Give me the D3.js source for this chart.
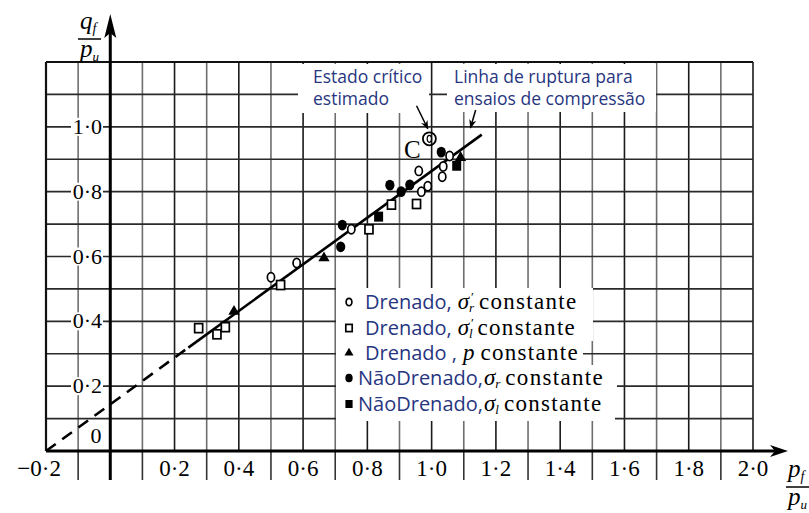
<!DOCTYPE html>
<html>
<head>
<meta charset="utf-8">
<script src="https://cdn.jsdelivr.net/npm/d3@7"></script>
<style>
  body { margin: 0; background: #fff; }
  .serif { font-family: "Liberation Serif", "DejaVu Serif", serif; }
  .sans { font-family: "Open Sans", "Liberation Sans", sans-serif; }
</style>
</head>
<body>
<div id="root"></div>
<script>
// values (x = pf/pu, y = qf/pu)
const drenadoSigR = [[0.50, 0.536], [0.58, 0.58], [0.75, 0.684], [0.968, 0.80], [0.988, 0.817],
  [0.96, 0.864], [1.036, 0.878], [1.033, 0.846], [1.056, 0.91]];
const drenadoSigL = [[0.275, 0.379], [0.332, 0.36], [0.358, 0.382], [0.53, 0.512],
  [0.805, 0.684], [0.875, 0.76], [0.953, 0.762]];
const drenadoP = [[0.385, 0.43], [0.665, 0.595], [1.09, 0.905]];
const naoDrenadoSigR = [[0.717, 0.63], [0.722, 0.697], [0.87, 0.82], [0.905, 0.80],
  [0.932, 0.821], [1.03, 0.922]];
const naoDrenadoSigL = [[0.835, 0.723], [1.078, 0.88]];
const criticalState = [0.993, 0.963];
const failureLine = [[-0.2, 0], [0.243, 0.319], [1.156, 0.976]];

const xTicks = [-0.2, 0.2, 0.4, 0.6, 0.8, 1.0, 1.2, 1.4, 1.6, 1.8, 2.0];
const yTicks = [0.2, 0.4, 0.6, 0.8, 1.0];
const legendNames = ["Drenado,", "Drenado,", "Drenado ,", "NãoDrenado,", "NãoDrenado,"];
const legendVars = ["σ", "σ", "p", "σ", "σ"];
const legendPrimes = [true, true, false, false, false];
const legendSubs = ["r", "l", "", "r", "l"];
const legendTail = "constante";

const W = 809, H = 513;
const blue = "#27367f";

const svg = d3.select("#root").append("svg")
  .attr("width", W).attr("height", H)
  .style("background", "#fff");

const x = d3.scaleLinear().domain([-0.2, 2.0]).range([46, 753]);
const y = d3.scaleLinear().domain([0, 1.2]).range([451, 62]);

const fmt = (v) => d3.format(".1f")(Math.abs(v)).replace(".", "·");

// Grid
const grid = svg.append("g");
const tenths = d3.range(-2, 21).map((i) => i / 10);
grid.selectAll("line.v").data(tenths).enter().append("line")
  .attr("x1", (d) => x(d)).attr("x2", (d) => x(d))
  .attr("y1", y(0)).attr("y2", y(1.2))
  .attr("stroke", (d, i) => (i % 2 === 0 ? "#1a1a1a" : "#6e6e6e"))
  .attr("stroke-width", 1.6);
grid.selectAll("line.h").data(d3.range(1, 13).map((i) => i / 10)).enter().append("line")
  .attr("x1", x(-0.2)).attr("x2", x(2.0))
  .attr("y1", (d) => y(d)).attr("y2", (d) => y(d))
  .attr("stroke", (d) => (d > 1.15 ? "#111" : "#2a2a2a"))
  .attr("stroke-width", (d) => (d > 1.15 ? 2.2 : 1.6));
grid.append("line")
  .attr("x1", x(-0.2)).attr("x2", x(-0.2)).attr("y1", y(0)).attr("y2", y(1.2))
  .attr("stroke", "#111").attr("stroke-width", 2.2);

// stubs below the x axis
grid.selectAll("line.stub").data(tenths.filter((d, i) => i % 2 === 1)).enter().append("line")
  .attr("x1", (d) => x(d)).attr("x2", (d) => x(d))
  .attr("y1", y(0)).attr("y2", 480)
  .attr("stroke", "#333").attr("stroke-width", 1.6);

// white patches behind the annotations
svg.append("rect").attr("x", 298).attr("y", 64).attr("width", 131).attr("height", 49).attr("fill", "#fff");
svg.append("rect").attr("x", 447).attr("y", 64).attr("width", 209).attr("height", 48).attr("fill", "#fff");

// Axes with arrows
svg.append("line")
  .attr("x1", x(0)).attr("x2", x(0)).attr("y1", 480).attr("y2", 30)
  .attr("stroke", "#000").attr("stroke-width", 3);
svg.append("path")
  .attr("d", `M${x(0)},14 L${x(0) - 6},38 L${x(0)},33 L${x(0) + 6},38 Z`)
  .attr("fill", "#000");
svg.append("line")
  .attr("x1", x(-0.2)).attr("x2", 775).attr("y1", y(0)).attr("y2", y(0))
  .attr("stroke", "#000").attr("stroke-width", 3);
svg.append("path")
  .attr("d", `M788,${y(0)} L770,${y(0) - 6} L775,${y(0)} L770,${y(0) + 6} Z`)
  .attr("fill", "#000");

// Tick labels
const yl = svg.append("g").attr("class", "serif").attr("font-size", 22);
yTicks.forEach((v) => {
  yl.append("rect").attr("x", 71).attr("y", y(v) - 9).attr("width", 32).attr("height", 18).attr("fill", "#fff");
  yl.append("text").attr("x", 102).attr("y", y(v) + 7).attr("text-anchor", "end").text(fmt(v));
});
yl.append("text").attr("x", 96).attr("y", 443).attr("text-anchor", "middle").text("0");

const xl = svg.append("g").attr("class", "serif").attr("font-size", 23);
xTicks.forEach((v) => {
  xl.append("text")
    .attr("x", v < 0 ? x(v) + 15 : x(v)).attr("y", 476)
    .attr("text-anchor", v < 0 ? "end" : "middle")
    .text((v < 0 ? "−" : "") + fmt(v));
});

// Axis titles (fractions)
function fraction(cx, top, num, den) {
  const g = svg.append("g").attr("class", "serif").attr("font-style", "italic");
  g.append("text").attr("x", cx - 9).attr("y", top + 16).attr("font-size", 25)
    .text(num).append("tspan").attr("font-size", 14).attr("dy", 4).text("f");
  g.append("line").attr("x1", cx - 11).attr("x2", cx + 12).attr("y1", top + 26).attr("y2", top + 26)
    .attr("stroke", "#000").attr("stroke-width", 1.5);
  g.append("text").attr("x", cx - 9).attr("y", top + 44).attr("font-size", 25)
    .text(den).append("tspan").attr("font-size", 13).attr("dy", 4).text("u");
}
fraction(89, 13, "q", "p");
fraction(797, 461, "p", "p");

// Failure line
svg.append("line")
  .attr("x1", x(failureLine[0][0])).attr("y1", y(failureLine[0][1]))
  .attr("x2", x(failureLine[1][0])).attr("y2", y(failureLine[1][1]))
  .attr("stroke", "#000").attr("stroke-width", 2.6).attr("stroke-dasharray", "12,8");
svg.append("line")
  .attr("x1", x(failureLine[1][0])).attr("y1", y(failureLine[1][1]))
  .attr("x2", x(failureLine[2][0])).attr("y2", y(failureLine[2][1]))
  .attr("stroke", "#000").attr("stroke-width", 2.6);

// Markers; pixel = true means the pair is already in pixels (legend keys)
function drawSeries(data, kind, scale, pixel) {
  const g = svg.append("g");
  const s = scale || 1;
  data.forEach(([a, b]) => {
    const px = pixel ? a : x(a);
    const py = pixel ? b : y(b);
    if (kind === "oc") {
      g.append("ellipse").attr("cx", px).attr("cy", py).attr("rx", 3.6 * s).attr("ry", 4.6 * s)
        .attr("fill", "#fff").attr("stroke", "#000").attr("stroke-width", 1.7);
    } else if (kind === "os") {
      g.append("rect").attr("x", px - 4 * s).attr("y", py - 4.5 * s).attr("width", 8 * s).attr("height", 9 * s)
        .attr("fill", "#fff").attr("stroke", "#000").attr("stroke-width", 1.7);
    } else if (kind === "ft") {
      g.append("path").attr("transform", `translate(${px},${py})`)
        .attr("d", d3.symbol(d3.symbolTriangle, 55 * s * s)()).attr("fill", "#000");
    } else if (kind === "fc") {
      g.append("ellipse").attr("cx", px).attr("cy", py).attr("rx", 4.6 * s).attr("ry", 5.4 * s).attr("fill", "#000");
    } else if (kind === "fs") {
      g.append("rect").attr("x", px - 4.5 * s).attr("y", py - 5 * s).attr("width", 9 * s).attr("height", 10 * s)
        .attr("fill", "#000");
    }
  });
}
drawSeries(drenadoSigL, "os");
drawSeries(drenadoSigR, "oc");
drawSeries(drenadoP, "ft");
drawSeries(naoDrenadoSigR, "fc");
drawSeries(naoDrenadoSigL, "fs");

// Critical state point
svg.append("circle").attr("cx", x(criticalState[0])).attr("cy", y(criticalState[1])).attr("r", 6.5)
  .attr("fill", "none").attr("stroke", "#000").attr("stroke-width", 1.8);
svg.append("ellipse").attr("cx", x(criticalState[0])).attr("cy", y(criticalState[1])).attr("rx", 2.2).attr("ry", 3.5)
  .attr("fill", "none").attr("stroke", "#000").attr("stroke-width", 1.2);
svg.append("text").attr("class", "serif").attr("x", x(0.94)).attr("y", y(0.905))
  .attr("text-anchor", "middle").attr("font-size", 25).text("C");

// Annotation arrows
svg.append("defs").append("marker")
  .attr("id", "ah").attr("viewBox", "0 0 10 10").attr("refX", 9).attr("refY", 5)
  .attr("markerWidth", 9).attr("markerHeight", 9).attr("markerUnits", "userSpaceOnUse")
  .attr("orient", "auto")
  .append("path").attr("d", "M0,1 L10,5 L0,9 L3,5 Z").attr("fill", "#000");
[[[0.953, 1.065], [0.988, 0.994]], [[1.137, 1.052], [1.121, 0.997]]].forEach(([p0, p1]) => {
  svg.append("line").attr("x1", x(p0[0])).attr("y1", y(p0[1])).attr("x2", x(p1[0])).attr("y2", y(p1[1]))
    .attr("stroke", "#000").attr("stroke-width", 1.5).attr("marker-end", "url(#ah)");
});

// Annotation texts
const ann = svg.append("g").attr("class", "sans").attr("font-size", 17.5).attr("fill", blue);
ann.append("text").attr("x", 313).attr("y", 83).text("Estado crítico");
ann.append("text").attr("x", 313).attr("y", 105).text("estimado");
ann.append("text").attr("x", 454).attr("y", 83).text("Linha de ruptura para");
ann.append("text").attr("x", 454).attr("y", 105).text("ensaios de compressão");

// Legend
const rowY = [302, 328, 353, 378, 404];
const rowRight = [593, 593, 583, 617, 615];
const kinds = ["oc", "os", "ft", "fc", "fs"];
const lg = svg.append("g");
rowY.forEach((cy, i) => {
  const top = i === 0 ? 288 : cy - 13;
  const bottom = i === 4 ? 421 : cy + 13;
  lg.append("rect").attr("x", 336).attr("y", top).attr("width", rowRight[i] - 336)
    .attr("height", bottom - top).attr("fill", "#fff");
});
rowY.forEach((cy, i) => {
  drawSeries([[349, cy]], kinds[i], 0.8, true);
  const base = cy + 7;
  let cx = i < 3 ? 365 : 358;
  const name = lg.append("text").attr("class", "sans").attr("font-size", 20).attr("fill", blue)
    .attr("x", cx).attr("y", base).text(legendNames[i]);
  cx += name.node().getComputedTextLength() + (i < 3 ? 6 : 1);
  const t = lg.append("text").attr("class", "serif").attr("font-size", 23)
    .attr("x", cx).attr("y", base);
  t.append("tspan").attr("font-style", "italic").text(legendVars[i]);
  if (legendPrimes[i]) {
    t.append("tspan").attr("font-size", 13).attr("dx", 2).attr("dy", -8).text("′");
  }
  if (legendSubs[i]) {
    t.append("tspan").attr("font-style", "italic").attr("font-size", 13)
      .attr("dx", legendPrimes[i] ? -5 : 0).attr("dy", legendPrimes[i] ? 11 : 3).text(legendSubs[i]);
    t.append("tspan").attr("dy", -3).attr("dx", 5).attr("letter-spacing", 1.3).text(legendTail);
  } else {
    t.append("tspan").attr("dx", 6).attr("letter-spacing", 1.3).text(legendTail);
  }
});
</script>
</body>
</html>
